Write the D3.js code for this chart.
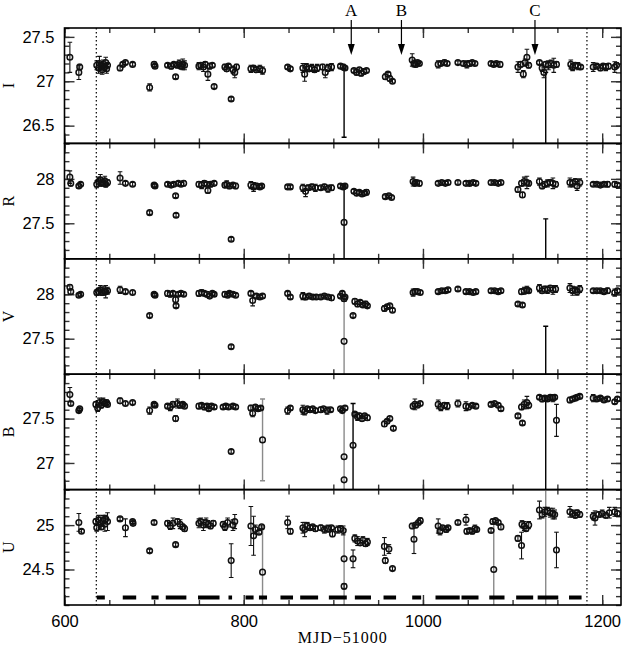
<!DOCTYPE html>
<html>
<head>
<meta charset="utf-8">
<script src="https://cdn.jsdelivr.net/npm/d3@7"></script>
<style>
  body { margin: 0; background: #fff; }
  svg { display: block; }
</style>
</head>
<body>
<div id="chart"></div>
<script>
// bands, stacked top to bottom
const bands = ['I', 'R', 'V', 'B', 'U']
const bandDomains = [[26.3, 27.6], [27.1, 28.4], [27.1, 28.4], [26.7, 28.0], [24.1, 25.4]]
const bandTicks = [[26.5, 27, 27.5], [27.5, 28], [27.5, 28], [27, 27.5], [24.5, 25]]
const xTicks = [600, 800, 1000, 1200]
const dottedAt = [635.5, 1183]
const arrowNames = ['A', 'B', 'C']
const arrowAt = [920, 976, 1125]

// observing runs (bars at the foot of the U panel): [start, end]
const runs = [[636, 645], [665, 680], [697, 705], [713, 736], [749, 773], [783, 787], [802, 811],
  [817, 826], [841, 855], [863, 883], [895, 915], [924, 942], [956, 970], [988, 998], [1014, 1041],
  [1043, 1062], [1074, 1091], [1104, 1123], [1128, 1151], [1163, 1177]]

// points: [MJD-51000, mag, error]
const iPts = [
  [606, 27.27, 0.17], [616, 27.10, 0.08], [617, 27.16, 0.03],
  [636, 27.18, 0.05], [638, 27.15, 0.06], [639, 27.20, 0.08], [641, 27.17, 0.04], [642, 27.13, 0.05],
  [643, 27.19, 0.05], [645, 27.16, 0.04], [646, 27.21, 0.06], [647, 27.14, 0.05], [648, 27.18, 0.03],
  [662, 27.15, 0.03], [665, 27.19, 0.02], [668, 27.21, 0.02], [676, 27.19, 0.02],
  [695, 26.93, 0.04], [700, 27.19, 0.03], [701, 27.17, 0.02],
  [715, 27.18, 0.02], [719, 27.17, 0.03], [722, 27.19, 0.02], [724, 27.05, 0.02], [726, 27.18, 0.03],
  [728, 27.20, 0.04], [730, 27.17, 0.03], [732, 27.19, 0.06], [734, 27.18, 0.05],
  [750, 27.17, 0.04], [752, 27.18, 0.03], [755, 27.16, 0.05], [757, 27.19, 0.03], [760, 27.08, 0.07],
  [762, 27.17, 0.03], [765, 27.18, 0.02], [767, 26.94, 0.02],
  [779, 27.16, 0.03], [781, 27.14, 0.03], [783, 27.17, 0.02], [786, 26.80, 0.02], [788, 27.13, 0.04],
  [790, 27.10, 0.06], [792, 27.16, 0.03],
  [808, 27.14, 0.04], [811, 27.15, 0.02], [814, 27.13, 0.03], [818, 27.14, 0.04], [821, 27.12, 0.04],
  [849, 27.16, 0.02], [852, 27.14, 0.02],
  [866, 27.15, 0.05], [868, 27.08, 0.08], [870, 27.16, 0.04], [873, 27.14, 0.03], [876, 27.15, 0.04],
  [879, 27.13, 0.03], [882, 27.15, 0.04],
  [888, 27.16, 0.03], [891, 27.10, 0.06], [894, 27.15, 0.04], [898, 27.16, 0.04],
  [908, 27.17, 0.02], [911, 27.16, 0.03], [913, 27.15, 0.02],
  [923, 27.12, 0.02], [926, 27.10, 0.03], [929, 27.13, 0.02], [931, 27.09, 0.03], [934, 27.11, 0.03], [937, 27.12, 0.02],
  [958, 27.05, 0.03], [961, 27.08, 0.02], [963, 27.03, 0.03], [966, 27.00, 0.02],
  [988, 27.24, 0.07], [990, 27.20, 0.04], [992, 27.19, 0.03], [994, 27.21, 0.02], [996, 27.20, 0.02],
  [1017, 27.19, 0.04], [1020, 27.20, 0.02], [1024, 27.21, 0.03], [1027, 27.20, 0.02],
  [1039, 27.21, 0.02], [1045, 27.20, 0.02], [1049, 27.19, 0.04], [1052, 27.20, 0.03], [1055, 27.21, 0.02], [1058, 27.20, 0.02],
  [1076, 27.20, 0.02], [1079, 27.19, 0.02], [1082, 27.20, 0.02], [1086, 27.19, 0.03],
  [1106, 27.16, 0.06], [1109, 27.19, 0.03], [1112, 27.08, 0.04], [1114, 27.21, 0.04], [1116, 27.27, 0.09], [1118, 27.18, 0.03],
  [1130, 27.21, 0.02], [1133, 27.15, 0.04], [1135, 27.10, 0.06], [1137, 27.19, 0.03], [1140, 27.18, 0.05],
  [1143, 27.20, 0.04], [1146, 27.18, 0.08], [1149, 27.19, 0.03],
  [1165, 27.19, 0.05], [1167, 27.16, 0.04], [1170, 27.18, 0.03], [1173, 27.17, 0.04], [1176, 27.16, 0.02],
  [1190, 27.16, 0.05], [1194, 27.17, 0.02], [1198, 27.15, 0.03], [1201, 27.17, 0.02], [1204, 27.16, 0.04],
  [1207, 27.17, 0.03], [1214, 27.16, 0.06], [1216, 27.18, 0.03]
]
const rPts = [
  [606, 28.02, 0.07], [607, 27.95, 0.03], [616, 27.92, 0.02], [618, 27.94, 0.02],
  [636, 27.94, 0.04], [638, 27.97, 0.05], [640, 27.99, 0.06], [641, 27.95, 0.03], [643, 27.96, 0.04],
  [645, 27.98, 0.05], [646, 27.94, 0.03], [648, 27.96, 0.03],
  [662, 28.01, 0.07], [668, 27.95, 0.02], [676, 27.94, 0.02],
  [695, 27.62, 0.02], [700, 27.93, 0.02], [701, 27.92, 0.02],
  [715, 27.94, 0.02], [719, 27.93, 0.02], [722, 27.94, 0.02], [724, 27.81, 0.02], [724.5, 27.59, 0.02],
  [727, 27.95, 0.02], [730, 27.94, 0.02], [733, 27.95, 0.03],
  [750, 27.94, 0.03], [753, 27.93, 0.04], [756, 27.95, 0.03], [759, 27.94, 0.02], [760, 27.87, 0.03],
  [763, 27.94, 0.03], [767, 27.95, 0.02],
  [779, 27.93, 0.03], [781, 27.94, 0.04], [784, 27.92, 0.03], [786, 27.32, 0.02], [788, 27.93, 0.02], [791, 27.92, 0.03],
  [808, 27.93, 0.04], [811, 27.91, 0.05], [814, 27.92, 0.03], [818, 27.91, 0.02], [820, 27.92, 0.02],
  [849, 27.91, 0.02], [852, 27.91, 0.02],
  [866, 27.90, 0.04], [869, 27.86, 0.06], [872, 27.90, 0.03], [876, 27.91, 0.03], [880, 27.90, 0.04],
  [886, 27.90, 0.02], [890, 27.91, 0.03], [894, 27.89, 0.04], [898, 27.90, 0.03],
  [908, 27.92, 0.02], [911, 27.91, 0.02], [913, 27.92, 0.02], [912, 27.51, 0],
  [923, 27.86, 0.02], [926, 27.84, 0.03], [929, 27.85, 0.02], [932, 27.83, 0.02], [935, 27.84, 0.02], [937, 27.85, 0.03],
  [958, 27.80, 0.02], [962, 27.81, 0.02], [965, 27.79, 0.02],
  [989, 27.97, 0.05], [991, 27.95, 0.03], [993, 27.96, 0.02], [996, 27.95, 0.03],
  [1017, 27.95, 0.02], [1021, 27.96, 0.02], [1025, 27.95, 0.02], [1028, 27.96, 0.02],
  [1039, 27.96, 0.02], [1048, 27.95, 0.02], [1052, 27.95, 0.03], [1056, 27.96, 0.02], [1059, 27.95, 0.02],
  [1076, 27.96, 0.02], [1080, 27.96, 0.02], [1084, 27.95, 0.02], [1087, 27.96, 0.02],
  [1106, 27.88, 0.03], [1111, 27.82, 0.03], [1110, 27.95, 0.03], [1113, 27.97, 0.05], [1116, 27.96, 0.07], [1118, 27.95, 0.03],
  [1130, 27.97, 0.04], [1133, 27.92, 0.03], [1136, 27.94, 0.03], [1139, 27.95, 0.04], [1142, 27.96, 0.03],
  [1145, 27.95, 0.06], [1148, 27.94, 0.03],
  [1164, 27.96, 0.05], [1167, 27.95, 0.04], [1170, 27.97, 0.03], [1172, 27.92, 0.05], [1175, 27.96, 0.04],
  [1190, 27.94, 0.02], [1194, 27.94, 0.02], [1198, 27.93, 0.02], [1202, 27.94, 0.02], [1206, 27.94, 0.03],
  [1214, 27.94, 0.03], [1217, 27.93, 0.02]
]
const vPts = [
  [606, 28.08, 0.03], [607, 28.03, 0.03], [616, 27.99, 0.02], [618, 28.00, 0.02],
  [636, 28.02, 0.03], [638, 28.03, 0.04], [640, 28.05, 0.05], [642, 28.02, 0.03], [644, 28.04, 0.05],
  [646, 28.03, 0.07], [648, 28.04, 0.04],
  [662, 28.05, 0.04], [668, 28.03, 0.02], [676, 28.02, 0.02],
  [695, 27.76, 0.02], [700, 28.00, 0.02], [701, 27.99, 0.02],
  [715, 28.01, 0.03], [718, 28.00, 0.03], [721, 28.01, 0.02], [724, 27.94, 0.04], [724.5, 27.87, 0.02],
  [727, 28.00, 0.02], [730, 28.01, 0.02], [733, 28.00, 0.02],
  [750, 28.01, 0.03], [753, 28.02, 0.03], [756, 28.01, 0.02], [759, 28.00, 0.03], [762, 27.98, 0.02],
  [765, 28.01, 0.02], [767, 28.00, 0.02],
  [779, 28.00, 0.03], [782, 27.99, 0.02], [784, 28.01, 0.02], [786, 27.41, 0.02], [788, 28.00, 0.02], [791, 27.99, 0.02],
  [808, 28.01, 0.02], [810, 27.93, 0.06], [814, 27.98, 0.02], [818, 27.97, 0.02], [821, 27.98, 0.02],
  [849, 28.01, 0.02], [852, 27.97, 0.02],
  [866, 27.98, 0.04], [869, 27.97, 0.03], [873, 27.98, 0.02], [877, 27.97, 0.02], [881, 27.97, 0.02],
  [886, 27.97, 0.02], [890, 27.98, 0.02], [894, 27.97, 0.02], [898, 27.96, 0.03],
  [908, 27.98, 0.02], [910, 28.01, 0.02], [913, 27.97, 0.02], [912, 27.95, 0.03], [912, 27.47, 0],
  [922, 27.76, 0.02],
  [924, 27.92, 0.03], [927, 27.89, 0.03], [930, 27.91, 0.02], [933, 27.88, 0.02], [936, 27.89, 0.03], [938, 27.87, 0.02],
  [957, 27.84, 0.03], [960, 27.86, 0.02], [963, 27.87, 0.02], [966, 27.82, 0.02],
  [989, 28.02, 0.04], [991, 28.03, 0.03], [994, 28.03, 0.02], [997, 28.02, 0.02],
  [1017, 28.03, 0.02], [1021, 28.04, 0.02], [1025, 28.04, 0.02], [1028, 28.05, 0.02],
  [1039, 28.06, 0.02], [1048, 28.03, 0.02], [1052, 28.03, 0.02], [1056, 28.02, 0.02], [1059, 28.03, 0.02],
  [1076, 28.04, 0.02], [1080, 28.04, 0.02], [1084, 28.03, 0.02], [1087, 28.04, 0.02],
  [1106, 27.89, 0.02], [1111, 27.88, 0.02], [1110, 28.03, 0.03], [1113, 28.04, 0.04], [1116, 28.05, 0.04], [1118, 28.04, 0.02],
  [1130, 28.07, 0.04], [1133, 28.04, 0.03], [1136, 28.06, 0.03], [1139, 28.05, 0.04], [1142, 28.07, 0.03],
  [1145, 28.05, 0.05], [1148, 28.06, 0.04],
  [1164, 28.07, 0.05], [1167, 28.04, 0.05], [1170, 28.05, 0.03], [1172, 28.03, 0.04], [1175, 28.06, 0.04],
  [1190, 28.04, 0.02], [1194, 28.04, 0.02], [1198, 28.04, 0.02], [1202, 28.03, 0.02], [1206, 28.04, 0.03],
  [1214, 28.02, 0.04], [1217, 28.04, 0.02]
]
const bPts = [
  [606, 27.77, 0.08], [607, 27.67, 0.02], [616, 27.59, 0.02], [617, 27.61, 0.02],
  [635, 27.66, 0.03], [637, 27.62, 0.04], [639, 27.68, 0.05], [641, 27.65, 0.03], [643, 27.69, 0.04],
  [645, 27.67, 0.03], [647, 27.68, 0.03], [648, 27.66, 0.02],
  [662, 27.70, 0.03], [668, 27.67, 0.02], [676, 27.68, 0.02],
  [695, 27.59, 0.04], [700, 27.66, 0.02], [701, 27.65, 0.02],
  [715, 27.64, 0.02], [718, 27.63, 0.04], [721, 27.66, 0.03], [724, 27.50, 0.03], [726, 27.67, 0.05],
  [729, 27.65, 0.03], [732, 27.66, 0.02], [734, 27.64, 0.02],
  [750, 27.64, 0.03], [753, 27.65, 0.02], [756, 27.63, 0.03], [759, 27.64, 0.02], [761, 27.61, 0.02],
  [764, 27.64, 0.02], [767, 27.63, 0.02],
  [777, 27.63, 0.02], [780, 27.64, 0.02], [783, 27.63, 0.02], [786, 27.13, 0.02], [788, 27.64, 0.02], [791, 27.63, 0.02],
  [808, 27.62, 0.03], [810, 27.56, 0.04], [813, 27.63, 0.02], [816, 27.61, 0.02], [819, 27.62, 0.02], [821, 27.26, 0],
  [849, 27.59, 0.04], [852, 27.62, 0.02],
  [866, 27.60, 0.05], [868, 27.58, 0.04], [871, 27.61, 0.02], [874, 27.60, 0.03], [877, 27.61, 0.02], [880, 27.59, 0.02],
  [886, 27.60, 0.03], [889, 27.61, 0.02], [893, 27.59, 0.04], [897, 27.60, 0.02],
  [908, 27.61, 0.02], [910, 27.59, 0.02], [913, 27.62, 0.02], [912, 27.07, 0], [912, 26.81, 0],
  [922, 27.20, 0],
  [924, 27.55, 0.02], [927, 27.52, 0.04], [929, 27.53, 0.03], [932, 27.50, 0.03], [935, 27.53, 0.02], [938, 27.51, 0.03],
  [957, 27.44, 0.03], [960, 27.47, 0.02], [963, 27.50, 0.02], [967, 27.39, 0.02],
  [989, 27.64, 0.03], [991, 27.66, 0.06], [994, 27.65, 0.02], [997, 27.67, 0.02],
  [1017, 27.66, 0.05], [1020, 27.63, 0.04], [1024, 27.65, 0.03], [1027, 27.64, 0.04],
  [1039, 27.67, 0.04], [1048, 27.64, 0.05], [1051, 27.63, 0.03], [1055, 27.65, 0.02], [1059, 27.64, 0.02],
  [1076, 27.66, 0.02], [1080, 27.67, 0.02], [1084, 27.65, 0.02], [1087, 27.61, 0.02],
  [1106, 27.53, 0.02], [1111, 27.45, 0.02], [1110, 27.63, 0.03], [1113, 27.66, 0.05], [1116, 27.68, 0.07], [1118, 27.65, 0.03],
  [1130, 27.74, 0.02], [1133, 27.72, 0.03], [1136, 27.73, 0.02], [1139, 27.72, 0.02], [1142, 27.74, 0.02],
  [1145, 27.73, 0.04], [1147, 27.74, 0.02], [1149, 27.48, 0.18],
  [1164, 27.71, 0.03], [1167, 27.72, 0.02], [1170, 27.73, 0.02], [1172, 27.74, 0.02], [1175, 27.75, 0.02],
  [1190, 27.73, 0.04], [1194, 27.72, 0.02], [1198, 27.73, 0.02], [1202, 27.71, 0.02], [1206, 27.72, 0.02],
  [1214, 27.69, 0.02], [1217, 27.72, 0.02]
]
const uPts = [
  [616, 25.03, 0.10], [619, 24.93, 0.02],
  [635, 25.04, 0.03], [636, 24.97, 0.04], [638, 25.06, 0.05], [640, 25.02, 0.07], [641, 24.98, 0.03],
  [643, 25.05, 0.06], [645, 25.01, 0.08], [646, 25.07, 0.04], [648, 25.04, 0.10],
  [662, 25.07, 0.02], [668, 24.97, 0.10], [676, 25.04, 0.02], [676.5, 25.02, 0.02],
  [695, 24.71, 0.02], [700, 25.03, 0.02],
  [715, 25.02, 0.03], [718, 24.99, 0.04], [721, 25.02, 0.06], [724, 24.78, 0.02], [726, 25.04, 0.03],
  [729, 25.01, 0.05], [732, 24.98, 0.03], [734, 24.96, 0.03],
  [750, 25.02, 0.05], [752, 25.04, 0.04], [755, 25.00, 0.06], [758, 25.03, 0.05], [760, 25.01, 0.04],
  [763, 24.99, 0.03], [766, 25.02, 0.03],
  [777, 25.01, 0.03], [779, 24.98, 0.04], [782, 25.03, 0.05], [786, 24.60, 0.19], [788, 25.00, 0.06], [790, 25.04, 0.08],
  [808, 24.99, 0.22], [811, 24.88, 0.22], [813, 24.95, 0.05], [817, 24.92, 0.02], [820, 24.98, 0.02], [821, 24.47, 0],
  [849, 25.03, 0.07], [852, 24.93, 0.03],
  [866, 24.97, 0.06], [868, 24.95, 0.08], [871, 24.99, 0.04], [874, 24.97, 0.03], [877, 24.98, 0.02], [880, 24.96, 0.03],
  [886, 24.97, 0.03], [890, 24.95, 0.04], [894, 24.96, 0.04], [898, 24.97, 0.02],
  [899, 24.90, 0.03], [905, 24.95, 0.04], [908, 24.96, 0.03], [911, 24.94, 0.05], [912, 24.62, 0], [912, 24.31, 0.03],
  [922, 24.62, 0.10],
  [924, 24.85, 0.04], [927, 24.82, 0.05], [930, 24.80, 0.03], [933, 24.83, 0.04], [936, 24.79, 0.03], [938, 24.81, 0.04],
  [957, 24.76, 0.10], [958, 24.60, 0.03], [962, 24.73, 0.05], [966, 24.51, 0.02],
  [988, 24.99, 0.03], [990, 24.84, 0.16], [992, 25.00, 0.03], [995, 25.03, 0.02], [997, 25.05, 0.03],
  [1017, 24.99, 0.08], [1019, 24.93, 0.04], [1022, 24.97, 0.02], [1026, 24.95, 0.03], [1028, 24.97, 0.02],
  [1039, 25.03, 0.02], [1048, 25.06, 0.06], [1049, 24.93, 0.03], [1052, 24.94, 0.02], [1055, 24.93, 0.03],
  [1058, 24.96, 0.04], [1060, 24.95, 0.02],
  [1076, 24.94, 0.02], [1078, 25.04, 0.03], [1081, 25.05, 0.02], [1084, 25.03, 0.02], [1087, 24.98, 0.03], [1079, 24.50, 0],
  [1106, 24.85, 0.03], [1110, 24.77, 0.15], [1110.5, 25.01, 0.04], [1113, 24.99, 0.05], [1115, 24.96, 0.03], [1118, 25.00, 0.04],
  [1130, 25.17, 0.10], [1133, 25.12, 0.04], [1136, 25.15, 0.05], [1139, 25.16, 0.04], [1142, 25.14, 0.05],
  [1145, 25.13, 0.06], [1147, 25.12, 0.05], [1149, 24.72, 0.20],
  [1164, 25.15, 0.06], [1167, 25.13, 0.04], [1170, 25.11, 0.03], [1172, 25.14, 0.03], [1175, 25.12, 0.03],
  [1190, 25.10, 0.04], [1192, 25.08, 0.08], [1196, 25.12, 0.03], [1200, 25.13, 0.04], [1204, 25.11, 0.03],
  [1208, 25.14, 0.06], [1214, 25.15, 0.05], [1217, 25.13, 0.03]
]
const bandPts = [iPts, rPts, vPts, bPts, uPts]

// very long error bars: [MJD-51000, low, high, source 0|1]
const iLong = [[912, 26.37, 27.15, 0], [1137, 26.2, 27.1, 0]]
const rLong = [[912, 27.0, 27.92, 0], [1137, 27.0, 27.55, 0]]
const vLong = [[912, 27.0, 27.95, 1], [1137, 27.0, 27.64, 0]]
const bLong = [[821, 26.80, 27.72, 1], [912, 26.6, 27.6, 1], [922, 26.6, 27.67, 0], [1137, 26.6, 27.73, 0]]
const uLong = [[821, 24.0, 24.98, 1], [912, 24.0, 24.95, 1], [1079, 24.0, 25.04, 1], [1137, 24.0, 25.5, 1]]
const bandLong = [iLong, rLong, vLong, bLong, uLong]

const W = 622, H = 645
const plotTop = 28, plotBottom = 605, plotLeft = 64.5, plotRight = 621
const panelH = (plotBottom - plotTop) / bands.length
const sans = 'Liberation Sans, Arial, sans-serif'
const serif = 'Liberation Serif, Times New Roman, serif'

const svg = d3.select('#chart').append('svg')
  .attr('width', W)
  .attr('height', H)

const x = d3.scaleLinear().domain([600, 1221]).range([plotLeft, plotRight])
const srcColor = d3.scaleOrdinal([0, 1], ['#000', '#8a8a8a'])

function styleTicks (sel) {
  sel.select('.domain').remove()
  sel.selectAll('line').attr('stroke', '#333').attr('stroke-width', 1.4)
  sel.selectAll('text').attr('font-family', sans).attr('font-size', 16.5).attr('fill', '#000')
}

bands.forEach((band, i) => {
  const g = svg.append('g').attr('transform', `translate(0, ${plotTop + i * panelH})`)
  const y = d3.scaleLinear().domain(bandDomains[i]).range([panelH, 0])

  // minor and major ticks on all four sides, pointing inward
  g.append('g').attr('transform', `translate(0, ${panelH})`)
    .call(d3.axisBottom(x).tickValues(x.ticks(12)).tickSize(-5).tickFormat('')).call(styleTicks)
  g.append('g')
    .call(d3.axisTop(x).tickValues(x.ticks(12)).tickSize(-5).tickFormat('')).call(styleTicks)
  g.append('g').attr('transform', `translate(0, ${panelH})`)
    .call(d3.axisBottom(x).tickValues(xTicks).tickSize(-10).tickPadding(10)
      .tickFormat(i === bands.length - 1 ? d3.format('d') : ''))
    .call(styleTicks)
  g.append('g')
    .call(d3.axisTop(x).tickValues(xTicks).tickSize(-10).tickFormat('')).call(styleTicks)

  g.append('g').attr('transform', `translate(${plotLeft}, 0)`)
    .call(d3.axisLeft(y).tickValues(y.ticks(13)).tickSize(-5).tickFormat('')).call(styleTicks)
  g.append('g').attr('transform', `translate(${plotRight}, 0)`)
    .call(d3.axisRight(y).tickValues(y.ticks(13)).tickSize(-5).tickFormat('')).call(styleTicks)
  g.append('g').attr('transform', `translate(${plotLeft}, 0)`)
    .call(d3.axisLeft(y).tickValues(bandTicks[i]).tickSize(-10).tickPadding(10).tickFormat(d => String(d)))
    .call(styleTicks)
  g.append('g').attr('transform', `translate(${plotRight}, 0)`)
    .call(d3.axisRight(y).tickValues(bandTicks[i]).tickSize(-10).tickFormat('')).call(styleTicks)

  // band label
  g.append('text')
    .attr('transform', `translate(14, ${panelH / 2}) rotate(-90)`)
    .attr('text-anchor', 'middle')
    .attr('font-family', serif)
    .attr('font-size', 16)
    .text(band)

  // data, clipped to the panel
  g.append('clipPath').attr('id', `clip-${band}`)
    .append('rect')
    .attr('x', plotLeft).attr('y', 0)
    .attr('width', plotRight - plotLeft).attr('height', panelH)
  const data = g.append('g').attr('clip-path', `url(#clip-${band})`)

  const long = data.append('g')
  bandLong[i].forEach(d => {
    const c = srcColor(d[3])
    long.append('line')
      .attr('x1', x(d[0])).attr('x2', x(d[0]))
      .attr('y1', y(d[1])).attr('y2', y(d[2]))
      .attr('stroke', c).attr('stroke-width', 1.4)
    ;[d[1], d[2]].forEach(v => {
      long.append('line')
        .attr('x1', x(d[0]) - 2.5).attr('x2', x(d[0]) + 2.5)
        .attr('y1', y(v)).attr('y2', y(v))
        .attr('stroke', c).attr('stroke-width', 1.4)
    })
  })

  const pts = bandPts[i]
  const bars = data.append('g').attr('stroke', '#111').attr('stroke-width', 1.1)
  pts.filter(d => d[2] > 0).forEach(d => {
    const px = x(d[0]), lo = y(d[1] - d[2]), hi = y(d[1] + d[2])
    bars.append('line').attr('x1', px).attr('x2', px).attr('y1', lo).attr('y2', hi)
    bars.append('line').attr('x1', px - 2.3).attr('x2', px + 2.3).attr('y1', lo).attr('y2', lo)
    bars.append('line').attr('x1', px - 2.3).attr('x2', px + 2.3).attr('y1', hi).attr('y2', hi)
  })

  data.append('g').selectAll('circle')
    .data(pts)
    .join('circle')
    .attr('cx', d => x(d[0]))
    .attr('cy', d => y(d[1]))
    .attr('r', 2.8)
    .attr('fill', 'none')
    .attr('stroke', '#111')
    .attr('stroke-width', 1.5)

  // observing runs along the foot of the last panel
  if (i === bands.length - 1) {
    data.append('g').selectAll('rect')
      .data(runs)
      .join('rect')
      .attr('x', d => x(d[0]))
      .attr('width', d => x(d[1]) - x(d[0]))
      .attr('y', panelH - 9.5)
      .attr('height', 4)
      .attr('fill', '#000')
  }

  // frame
  g.append('rect')
    .attr('x', plotLeft).attr('y', 0)
    .attr('width', plotRight - plotLeft).attr('height', panelH)
    .attr('fill', 'none')
    .attr('stroke', '#000')
    .attr('stroke-width', 1.6)
})

// dotted season markers
svg.append('g').selectAll('line')
  .data(dottedAt)
  .join('line')
  .attr('x1', d => x(d)).attr('x2', d => x(d))
  .attr('y1', plotTop).attr('y2', plotBottom)
  .attr('stroke', '#000')
  .attr('stroke-width', 1.2)
  .attr('stroke-dasharray', '1.5,2.5')

// arrows A, B, C
const arrows = svg.append('g')
arrowAt.forEach((v, k) => {
  const ax = x(v)
  arrows.append('line')
    .attr('x1', ax).attr('x2', ax)
    .attr('y1', 20).attr('y2', 48)
    .attr('stroke', '#000').attr('stroke-width', 1.2)
  arrows.append('path')
    .attr('d', `M${ax - 3.5},${44} L${ax},${55} L${ax + 3.5},${44} Z`)
    .attr('fill', '#000')
  arrows.append('text')
    .attr('x', ax).attr('y', 16)
    .attr('text-anchor', 'middle')
    .attr('font-family', serif)
    .attr('font-size', 17)
    .text(arrowNames[k])
})

// x axis title
svg.append('text')
  .attr('x', (plotLeft + plotRight) / 2)
  .attr('y', 643)
  .attr('text-anchor', 'middle')
  .attr('font-family', serif)
  .attr('font-size', 16)
  .attr('letter-spacing', 1)
  .text('MJD\u221251000')
</script>
</body>
</html>
